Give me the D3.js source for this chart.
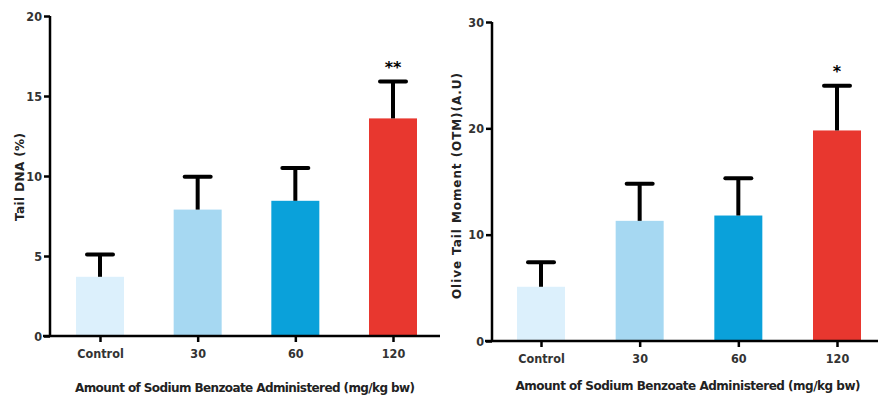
<!DOCTYPE html>
<html>
<head>
<meta charset="utf-8">
<script src="https://cdn.jsdelivr.net/npm/d3@7"></script>
<style>
  body { margin: 0; background: #fff; }
  svg { display: block; }
  .tick text { font-family: "DejaVu Sans", sans-serif; font-stretch: condensed; font-weight: bold; font-size: 12.5px; fill: #333; }
  .title { font-family: "DejaVu Sans", sans-serif; font-weight: bold; font-size: 12px; fill: #222; }
</style>
</head>
<body>
<script>
var categories = ["Control", "30", "60", "120"];
var colors = ["#dcf0fc", "#a6d8f2", "#0aa1da", "#e8372f"];

// left panel: Tail DNA (%)
var dnaMean = [3.7, 7.9, 8.45, 13.6];
var dnaErr = [5.1, 9.95, 10.5, 15.9];
var dnaStars = ["", "", "", "**"];
var dnaTicks = [0, 5, 10, 15, 20];

// right panel: Olive Tail Moment
var otmMean = [5.1, 11.3, 11.8, 19.8];
var otmErr = [7.4, 14.8, 15.3, 24.0];
var otmStars = ["", "", "", "*"];
var otmTicks = [0, 10, 20, 30];

var svg = d3.select("body").append("svg")
  .attr("width", 878)
  .attr("height", 397);

function panel(cfg) {
  var g = svg.append("g");

  var x = d3.scalePoint()
    .domain(categories)
    .range([cfg.x0, cfg.x1]);

  var y = d3.scaleLinear()
    .domain([0, cfg.max])
    .range([cfg.yBottom, cfg.yTop]);

  var bw = cfg.barWidth;

  // bars
  g.selectAll(".bar")
    .data(cfg.mean).enter()
    .append("rect")
    .attr("x", function (d, i) { return x(categories[i]) - bw / 2 })
    .attr("y", function (d) { return y(d) })
    .attr("width", bw)
    .attr("height", function (d) { return y(0) - y(d) })
    .style("fill", function (d, i) { return colors[i] });

  // error bars (upper only)
  g.selectAll(".err")
    .data(cfg.err).enter()
    .append("line")
    .attr("x1", function (d, i) { return x(categories[i]) })
    .attr("x2", function (d, i) { return x(categories[i]) })
    .attr("y1", function (d, i) { return y(cfg.mean[i]) })
    .attr("y2", function (d) { return y(d) })
    .style("stroke", "#000")
    .style("stroke-width", 4);

  g.selectAll(".cap")
    .data(cfg.err).enter()
    .append("line")
    .attr("x1", function (d, i) { return x(categories[i]) - 13 })
    .attr("x2", function (d, i) { return x(categories[i]) + 13 })
    .attr("y1", function (d) { return y(d) })
    .attr("y2", function (d) { return y(d) })
    .style("stroke", "#000")
    .style("stroke-width", 4)
    .style("stroke-linecap", "round");

  // significance stars
  g.selectAll(".star")
    .data(cfg.stars).enter()
    .append("text")
    .attr("x", function (d, i) { return x(categories[i]) })
    .attr("y", function (d, i) { return y(cfg.err[i]) - 9 })
    .attr("text-anchor", "middle")
    .style("font-family", "DejaVu Sans, sans-serif")
    .style("font-weight", "bold")
    .style("font-size", "16px")
    .text(function (d) { return d });

  // y axis
  var yAxis = g.append("g")
    .attr("transform", "translate(" + cfg.axisX + ",0)")
    .call(d3.axisLeft(y).tickValues(cfg.ticks).tickSize(6).tickPadding(2).tickSizeOuter(0));
  yAxis.select(".domain").attr("d", "M0," + y(0) + "V" + y(cfg.max));

  // x axis
  var xAxis = g.append("g")
    .attr("transform", "translate(0," + cfg.yBottom + ")")
    .call(d3.axisBottom(x).tickSize(6).tickPadding(7).tickSizeOuter(0));
  xAxis.select(".domain").attr("d", "M" + (cfg.axisX - 7) + ",0H" + cfg.xEnd);

  g.selectAll(".domain, .tick line")
    .style("stroke", "#000")
    .style("stroke-width", 2.5);

  // titles
  g.append("text")
    .attr("class", "title")
    .attr("x", cfg.xTitleX)
    .attr("y", cfg.xTitleY)
    .attr("text-anchor", "middle")
    .attr("textLength", cfg.xTitleLen)
    .attr("lengthAdjust", "spacing")
    .text("Amount of Sodium Benzoate Administered (mg/kg bw)");

  g.append("text")
    .attr("class", "title")
    .attr("transform", "translate(" + cfg.yTitleX + "," + cfg.yTitleY + ") rotate(-90)")
    .attr("text-anchor", "middle")
    .attr("textLength", cfg.yTitleLen)
    .attr("lengthAdjust", "spacing")
    .text(cfg.yTitle);
}

panel({
  x0: 100, x1: 393, barWidth: 48,
  yTop: 16, yBottom: 336, max: 20,
  axisX: 50, xEnd: 440,
  mean: dnaMean, err: dnaErr, stars: dnaStars, ticks: dnaTicks,
  xTitleX: 245, xTitleY: 392, xTitleLen: 340,
  yTitle: "Tail DNA (%)", yTitleX: 24, yTitleY: 177, yTitleLen: 88
});

panel({
  x0: 541, x1: 837, barWidth: 48,
  yTop: 22, yBottom: 341, max: 30,
  axisX: 492, xEnd: 878,
  mean: otmMean, err: otmErr, stars: otmStars, ticks: otmTicks,
  xTitleX: 688, xTitleY: 390, xTitleLen: 345,
  yTitle: "Olive Tail Moment (OTM)(A.U)", yTitleX: 461, yTitleY: 186, yTitleLen: 226
});
</script>
</body>
</html>
